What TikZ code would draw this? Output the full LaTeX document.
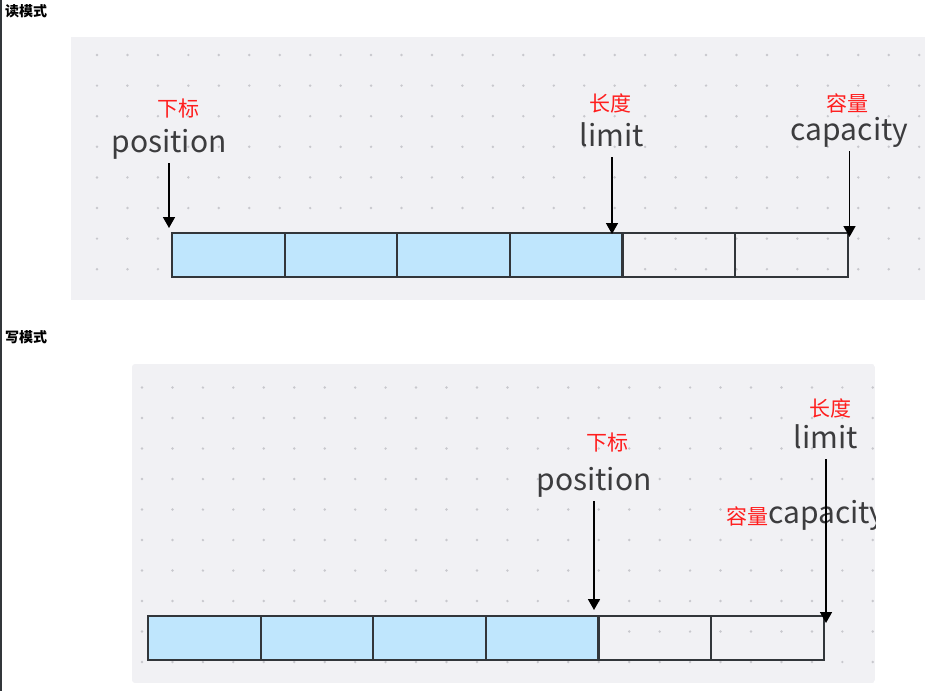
\documentclass[tikz,border=0pt]{standalone}
\usepackage{fontspec}
\setmainfont{Noto Sans CJK SC}
\usepackage{xcolor}
\usepackage{tikz}
\usetikzlibrary{arrows.meta}

\definecolor{panelbg}{RGB}{241,241,244}
\definecolor{griddot}{RGB}{200,200,205}
\definecolor{cellblue}{RGB}{191,230,253}
\definecolor{cellline}{RGB}{50,54,58}
\definecolor{labelgray}{RGB}{60,60,62}
\definecolor{notered}{RGB}{255,30,30}

\tikzset{
	cell/.style={draw=cellline, line width=2.2pt, minimum width=112.6pt, minimum height=44pt, inner sep=0pt, anchor=north west},
	fullcell/.style={cell, fill=cellblue},
	word/.style={font=\fontsize{30}{36}\selectfont, text=labelgray, anchor=base, text depth=8pt, inner sep=3pt},
	note/.style={font=\fontsize{21}{25}\selectfont, text=notered, anchor=base, inner sep=0pt},
	mode/.style={font=\fontsize{14}{16}\selectfont\bfseries, anchor=base west, inner sep=0pt},
	pointer/.style={line width=1.6pt, -{Triangle[length=11pt,width=12pt]}}
}

\begin{document}
\begin{tikzpicture}[x=1pt, y=-1pt]
			\useasboundingbox (0,0) rectangle (925,691);
			\draw[cellline, line width=1.5pt] (1,0) -- (1,691);

			\node[mode] at (5,16) (readhead){读模式};
			\fill[panelbg] (71,37) rectangle (925,300);
			\foreach \i in {0,...,27}
				\foreach \j in {0,...,7}
					\fill[griddot] (97+30.45*\i,55+30.6*\j) circle (1.35pt);
			\node[fullcell] at (171,232) (r1){};
			\node[fullcell] at (283.6,232) (r2){};
			\node[fullcell] at (396.2,232) (r3){};
			\node[fullcell] at (508.8,232) (r4){};
			\node[cell] at (621.4,232) (r5){};
			\node[cell] at (734,232) (r6){};
			\node[note] at (178,116.5) (idx1){下标};
			\node[word] at (169,152) (pos1){position};
			\node[note] at (610,111.5) (len1){长度};
			\node[word] at (612,146) (lim1){limit};
			\node[note] at (847,111.5) (size1){容量};
			\node[word] at (849.5,140) (cap1){capacity};
			\draw[pointer, shorten >=4pt] (pos1.south) -- (pos1.south |- r1.north);
			\draw[pointer, shorten >=-2pt] (lim1.south) -- (lim1.south |- r4.north);
			\draw[pointer, shorten >=-5pt] (cap1.south) -- (cap1.south |- r6.north);

			\node[mode] at (5,342) (writehead){写模式};
			\begin{scope}
				\path[clip, rounded corners=3pt] (132,364) rectangle (875,683);
				\fill[panelbg] (132,364) rectangle (875,683);
				\foreach \i in {0,...,24}
					\foreach \j in {0,...,9}
						\fill[griddot] (142+30.45*\i,387.5+30.5*\j) circle (1.35pt);
				\node[fullcell] at (147,615) (w1){};
				\node[fullcell] at (259.6,615) (w2){};
				\node[fullcell] at (372.2,615) (w3){};
				\node[fullcell] at (484.8,615) (w4){};
				\node[cell] at (597.4,615) (w5){};
				\node[cell] at (710,615) (w6){};
				\node[note] at (607,450.5) (idx2){下标};
				\node[word] at (594,490) (pos2){position};
				\node[note] at (830,416.5) (len2){长度};
				\node[word] at (826,448) (lim2){limit};
				\node[word, anchor=base west] at (765,523) (cap2){capacity};
				\node[note, anchor=base east] at (769,524.5) (size2){容量};
				\draw[pointer, shorten >=5pt] (pos2.south) -- (pos2.south |- w5.north);
				\draw[pointer, shorten >=-8pt] (lim2.south) -- (lim2.south |- w6.north);
			\end{scope}
		\end{tikzpicture}
\end{document}
